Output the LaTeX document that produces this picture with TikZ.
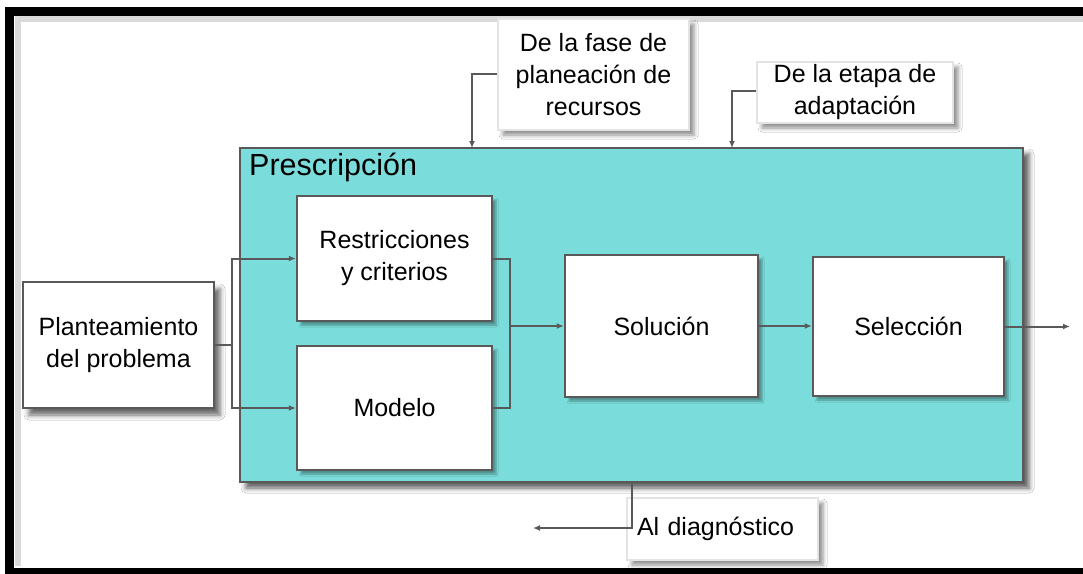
\documentclass[tikz,border=0pt]{standalone}
\usepackage{fontspec}
\setmainfont{Liberation Sans}
\usetikzlibrary{arrows.meta,shadows.blur}
\definecolor{tealfill}{RGB}{122,221,219}
\definecolor{edgegray}{RGB}{89,89,89}
\begin{document}
\begin{tikzpicture}[x=1pt,y=-1pt,
  txt/.style={font=\fontsize{25}{32}\selectfont, align=center, text=black},
  panel/.style={draw=edgegray, line width=2.4pt, fill=tealfill, inner sep=0pt,
    blur shadow={shadow xshift=6pt, shadow yshift=-6pt, shadow opacity=65, shadow blur radius=5pt}},
  stepbox/.style={txt, draw=edgegray, line width=2.4pt, fill=white, inner sep=0pt,
    blur shadow={shadow xshift=4pt, shadow yshift=-4pt, shadow opacity=35, shadow blur radius=2pt}},
  outbox/.style={txt, draw=edgegray, line width=2.4pt, fill=white, inner sep=0pt,
    blur shadow={shadow xshift=6pt, shadow yshift=-7pt, shadow opacity=60, shadow blur radius=5pt}},
  lblbox/.style={txt, draw=gray!22, line width=1.5pt, fill=white, inner sep=0pt,
    blur shadow={shadow xshift=5pt, shadow yshift=-5pt, shadow opacity=45, shadow blur radius=4pt}},
  conn/.style={draw=edgegray, line width=2pt},
  arr/.style={conn, -{Latex[length=7pt,width=6pt]}}
]
\useasboundingbox (0,0) rectangle (1083,573);
\clip (0,0) rectangle (1083,573);
\fill[white] (0,0) rectangle (1083,573);

% outer frame with inner shade on left and top
\draw[gray!30, line width=6pt] (18,566) -- (18,19) -- (1110,19);
\draw[black, line width=9pt] (9.5,11.5) rectangle (1110,572.5);

% main panel
\node[panel, minimum width=783, minimum height=334] (presc) at (631.5,315) {};
\node[txt, font=\fontsize{30.5}{34}\selectfont, anchor=base west, inner sep=0pt] (title) at (249,175) {Prescripción};

% boxes
\node[outbox, minimum width=191, minimum height=126] (plant) at (118.5,345) {Planteamiento\\del problema};
\node[stepbox, minimum width=195, minimum height=125] (restr) at (394.5,258.5) {Restricciones\\y criterios};
\node[stepbox, minimum width=195, minimum height=124] (model) at (394.5,408) {Modelo};
\node[stepbox, minimum width=193, minimum height=142] (sol) at (661.5,326) {Solución};
\node[stepbox, minimum width=191, minimum height=139] (sel) at (908.5,326.5) {Selección};

% labels
\node[lblbox, minimum width=191, minimum height=111] (lfase) at (593.5,74.5) {De la fase de\\planeación de\\recursos};
\node[lblbox, minimum width=196, minimum height=61] (letapa) at (855,92.5) {De la etapa de\\adaptación};
\node[lblbox, minimum width=191, minimum height=62, text width=171, align=left] (ldiag) at (722.5,529) {Al diagnóstico};

% coordinates
\coordinate (split) at (232,345);
\coordinate (join) at (510,326);
\coordinate (inA) at (472,148);
\coordinate (inB) at (732,148);
\coordinate (outR) at (1070,326.5);
\coordinate (outD) at (533,528);

% connectors
\draw[conn] (plant.east) -- (split);
\draw[arr] (split) |- (restr.west);
\draw[arr] (split) |- (model.west);
\draw[conn] (restr.east) -| (join);
\draw[conn] (model.east) -| (join);
\draw[arr] (join) -- (sol.west);
\draw[arr] (sol.east) -- (sol.east -| sel.west);
\draw[arr] (sel.east) -- (outR);
\draw[arr] (lfase.west |- 0,74) -| (inA);
\draw[arr] (letapa.west |- 0,91) -| (inB);
\draw[arr] (presc.south) |- (outD);
\end{tikzpicture}
\end{document}
